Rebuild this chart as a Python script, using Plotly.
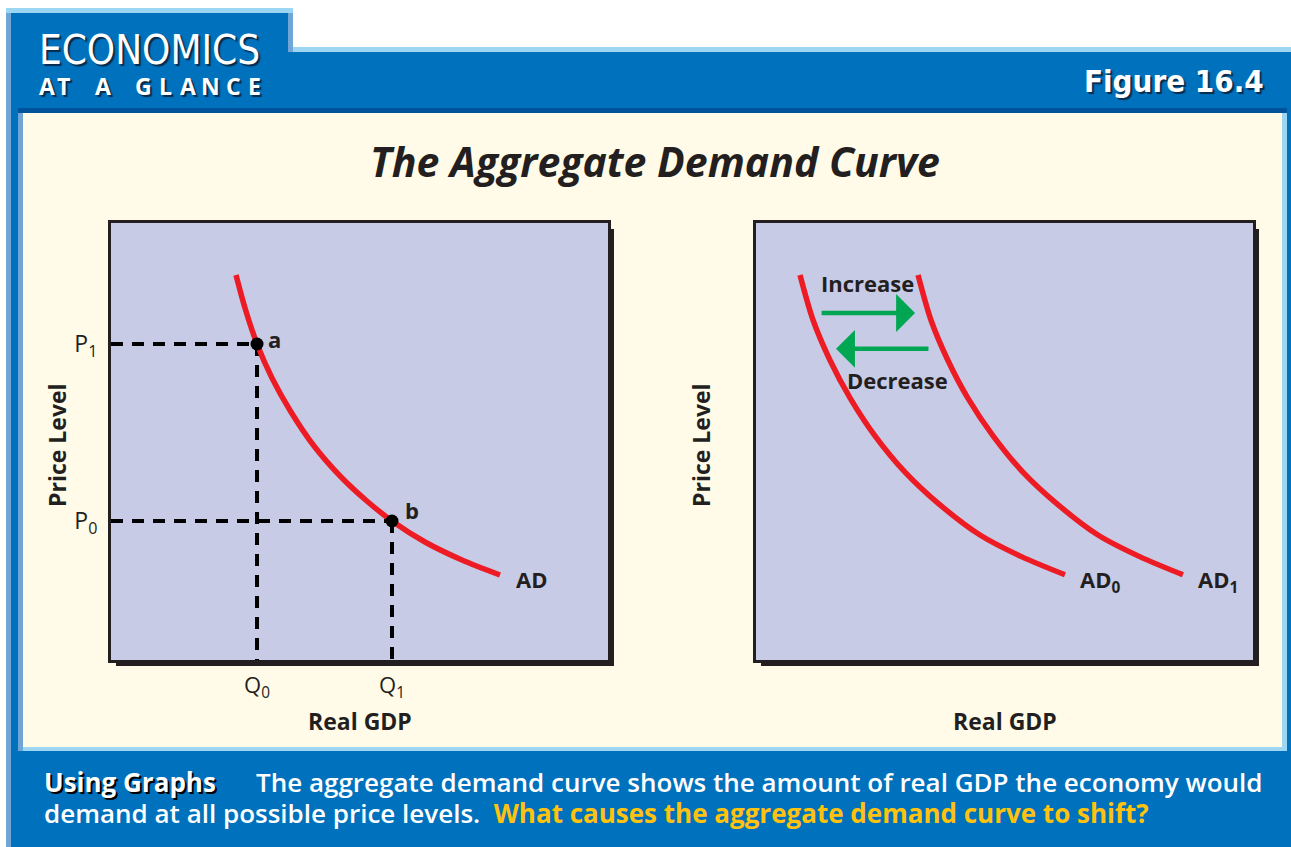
import plotly.graph_objects as go

W, H = 1291, 847

# ---------------- data ----------------
# left panel: single AD curve (x = real GDP, y = price level, 0-100 units)
ad_x = [25.15, 26.96, 29.38, 32.39, 36.22, 40.85, 46.28, 51.71, 56.54, 63.18, 70.62, 78.27]
ad_y = [88.10, 80.55, 72.31, 64.53, 56.75, 48.97, 41.88, 36.16, 31.81, 27.00, 22.88, 19.45]
point_labels = ["a", "b"]
point_x = [29.38, 56.54]        # Q0, Q1
point_y = [72.31, 31.81]        # P1, P0
price_ticks = ["P<sub>1</sub>", "P<sub>0</sub>"]
qty_ticks = ["Q<sub>0</sub>", "Q<sub>1</sub>"]

# right panel: shift of AD
ad0_x = [8.85, 11.47, 14.89, 18.91, 23.94, 29.98, 37.02, 45.07, 53.52, 62.17]
ad0_y = [88.1, 77.8, 68.6, 60.0, 51.3, 43.0, 35.5, 28.6, 23.6, 19.5]
ad1_x = [32.6, 35.2, 38.6, 42.6, 47.7, 53.7, 60.8, 68.8, 77.3, 85.9]
ad1_y = [88.1, 77.8, 68.6, 60.0, 51.3, 43.0, 35.5, 28.6, 23.6, 19.5]
increase_x = [12.9, 32.0]
increase_y = 79.4
decrease_x = [35.0, 16.1]
decrease_y = 71.2

# ---------------- styling ----------------
BLUE = "#0071bc"
LIGHT = "#9dd6f3"
SIDE = "#6fa6d6"
DARKBLUE = "#00529b"
CREAM = "#fffbe8"
PLOTBG = "#c7cbe6"
INK = "#231f20"
RED = "#ed1c24"
GREEN = "#00a651"
YELLOW = "#ffc20e"
COND = "DejaVu Sans Condensed, DejaVu Sans, sans-serif"
SANS = "Open Sans, Noto Sans, sans-serif"
HEAD_SHADOW = "2px 2px 1px rgba(10,20,40,0.75)"


def px(x):
    return x / W


def py(y):
    return 1 - y / H


def rect(x0, y0, x1, y1, color):
    return dict(type="rect", xref="paper", yref="paper", layer="below",
                x0=px(x0), x1=px(x1), y0=py(y1), y1=py(y0),
                fillcolor=color, line=dict(width=0))


L_BOX = (111, 223, 608, 660)
R_BOX = (756, 223, 1253, 660)

shapes = [
    # outer blue frame with bevels
    rect(6, 8, 293, 60, LIGHT),
    rect(6, 47, 1291, 847, LIGHT),
    rect(6, 13, 11, 847, SIDE),
    rect(288, 13, 293, 52, SIDE),
    rect(11, 13, 288, 60, BLUE),
    rect(11, 52, 1291, 847, BLUE),
    # cream panel with bevels
    rect(18, 108, 1287, 751, LIGHT),
    rect(18, 108, 23, 751, SIDE),
    rect(18, 108, 1287, 113, DARKBLUE),
    rect(23, 113, 1282, 747, CREAM),
]
for (x0, y0, x1, y1) in (L_BOX, R_BOX):
    shapes.append(rect(x0 + 5, y0 + 6, x1 + 6, y1 + 6, INK))
    shapes.append(rect(x0, y0, x1, y1, PLOTBG))

fig = go.Figure()
DASH = dict(color="black", width=4, dash="12px,9px")

# ----- left panel traces -----
for qx, pv in zip(point_x, point_y):
    fig.add_trace(go.Scatter(x=[0, qx], y=[pv, pv], mode="lines", line=DASH,
                             xaxis="x", yaxis="y", hoverinfo="skip"))
    fig.add_trace(go.Scatter(x=[qx, qx], y=[pv, 0], mode="lines", line=DASH,
                             xaxis="x", yaxis="y", hoverinfo="skip"))
fig.add_trace(go.Scatter(x=ad_x, y=ad_y, mode="lines",
                         line=dict(color=RED, width=5.5, shape="spline", smoothing=0.8),
                         xaxis="x", yaxis="y"))
fig.add_trace(go.Scatter(x=point_x, y=point_y, mode="markers",
                         marker=dict(color="black", size=13),
                         xaxis="x", yaxis="y"))

# ----- right panel traces -----
for cx, cy in ((ad0_x, ad0_y), (ad1_x, ad1_y)):
    fig.add_trace(go.Scatter(x=cx, y=cy, mode="lines",
                             line=dict(color=RED, width=5.5, shape="spline", smoothing=0.8),
                             xaxis="x2", yaxis="y2"))

axis_common = dict(range=[0, 100], showgrid=False, zeroline=False, showline=True,
                   mirror=True, linecolor=INK, linewidth=3, ticks="", fixedrange=True)

fig.update_layout(
    width=W, height=H, autosize=False,
    margin=dict(l=0, r=0, t=0, b=0),
    paper_bgcolor="white", plot_bgcolor="rgba(0,0,0,0)",
    showlegend=False,
    shapes=shapes,
    xaxis=dict(domain=[px(L_BOX[0]), px(L_BOX[2])], anchor="y",
               tickvals=point_x, ticktext=qty_ticks, ticklabelstandoff=4,
               tickfont=dict(family=SANS, size=22, color=INK), **axis_common),
    yaxis=dict(domain=[py(L_BOX[3]), py(L_BOX[1])], anchor="x",
               tickvals=point_y, ticktext=price_ticks, ticklabelstandoff=6,
               tickfont=dict(family=SANS, size=23, color=INK), **axis_common),
    xaxis2=dict(domain=[px(R_BOX[0]), px(R_BOX[2])], anchor="y2",
                showticklabels=False, **axis_common),
    yaxis2=dict(domain=[py(R_BOX[3]), py(R_BOX[1])], anchor="x2",
                showticklabels=False, **axis_common),
)

ann = []


def ptxt(x, y, text, size, color="white", family=SANS, weight="bold", xanchor="center",
         italic=False, angle=0, shadow="none"):
    ann.append(dict(xref="paper", yref="paper", x=px(x), y=py(y), text=text,
                    showarrow=False, xanchor=xanchor, yanchor="middle", textangle=angle,
                    font=dict(family=family, size=size, color=color, weight=weight,
                              style="italic" if italic else "normal", shadow=shadow)))


# header
ptxt(37, 50, "ECONOMICS", 40, family=COND, weight="normal", xanchor="left", shadow=HEAD_SHADOW)
glance_letters = list("ATAGLANCE")
glance_cx = [47, 63, 103, 143, 165, 188, 210, 233, 254]
for ch, cx in zip(glance_letters, glance_cx):
    ptxt(cx, 86, ch, 23, shadow=HEAD_SHADOW)
ptxt(1266, 81, "Figure 16.4", 31, family=COND, xanchor="right", shadow=HEAD_SHADOW)

# title
ptxt(655, 161, "The Aggregate Demand Curve", 41, color=INK, italic=True)

# axis titles
ptxt(57, 445, "Price Level", 23, color=INK, angle=-90)
ptxt(701, 445, "Price Level", 23, color=INK, angle=-90)
ptxt(360, 721, "Real GDP", 23, color=INK)
ptxt(1005, 721, "Real GDP", 23, color=INK)

# caption
ptxt(42, 782, "Using Graphs", 26, xanchor="left", shadow="2px 2px 0px black")
ptxt(1265, 782, "The aggregate demand curve shows the amount of real GDP the economy would",
     26, xanchor="right", weight=600)
ann.append(dict(xref="paper", yref="paper", x=px(42), y=py(813), xanchor="left", yanchor="middle",
                showarrow=False,
                text="demand at all possible price levels.  "
                     "<span style='color:%s'><b>What causes the aggregate demand curve to shift?</b></span>" % YELLOW,
                font=dict(family=SANS, size=26, color="white", weight=600)))

LBL = dict(family=SANS, size=22, color=INK, weight="bold")
# point labels
ann.append(dict(xref="x", yref="y", x=point_x[0], y=point_y[0], text=point_labels[0],
                showarrow=False, xanchor="left", yanchor="middle", xshift=9, yshift=5, font=LBL))
ann.append(dict(xref="x", yref="y", x=point_x[1], y=point_y[1], text=point_labels[1],
                showarrow=False, xanchor="left", yanchor="middle", xshift=11, yshift=11, font=LBL))

# curve labels
ann.append(dict(xref="x", yref="y", x=ad_x[-1], y=ad_y[-1], text="AD", showarrow=False,
                xanchor="left", yanchor="middle", xshift=14, yshift=-4, font=LBL))
ann.append(dict(xref="x2", yref="y2", x=ad0_x[-1], y=ad0_y[-1], text="AD<sub>0</sub>",
                showarrow=False, xanchor="left", yanchor="middle", xshift=13, yshift=-6, font=LBL))
ann.append(dict(xref="x2", yref="y2", x=ad1_x[-1], y=ad1_y[-1], text="AD<sub>1</sub>",
                showarrow=False, xanchor="left", yanchor="middle", xshift=13, yshift=-6, font=LBL))

# shift arrows
for xs, yv in ((increase_x, increase_y), (decrease_x, decrease_y)):
    ann.append(dict(xref="x2", yref="y2", axref="x2", ayref="y2",
                    x=xs[1], y=yv, ax=xs[0], ay=yv, text="",
                    showarrow=True, arrowhead=1, arrowsize=1.4, arrowwidth=4.5,
                    arrowcolor=GREEN))
ann.append(dict(xref="x2", yref="y2", x=(increase_x[0] + increase_x[1]) / 2, y=increase_y,
                yshift=30, text="Increase", showarrow=False, font=LBL))
ann.append(dict(xref="x2", yref="y2", x=(decrease_x[0] + decrease_x[1]) / 2 + 3, y=decrease_y,
                yshift=-31, text="Decrease", showarrow=False, font=LBL))

fig.update_layout(annotations=ann)
fig.write_html("out.html", config={"displayModeBar": False},
               post_script="document.body.style.margin='0px';document.body.style.overflow='hidden';")
